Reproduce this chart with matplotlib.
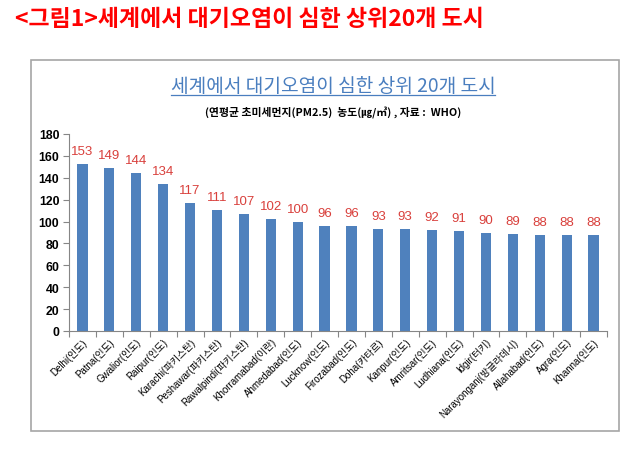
import matplotlib
matplotlib.use("Agg")
import matplotlib.pyplot as plt
from matplotlib.patches import Rectangle
from matplotlib.lines import Line2D

plt.rcParams['font.family'] = ['Liberation Sans', 'Noto Sans CJK KR', 'DejaVu Sans']

# data
cities = ['Delhi(인도)', 'Patna(인도)', 'Gwalior(인도)', 'Raipur(인도)', 'Karachi(파키스탄)',
          'Peshawar(파키스탄)', 'Rawalpindi(파키스탄)', 'Khorramabad(이란)', 'Ahmedabad(인도)',
          'Lucknow(인도)', 'Firozabad(인도)', 'Doha(카타르)', 'Kanpur(인도)', 'Amritsar(인도)',
          'Ludhiana(인도)', 'Idgir(터키)', 'Narayonganj(방글라데시)', 'Allahabad(인도)',
          'Agra(인도)', 'Khanna(인도)']
pm25 = [153, 149, 144, 134, 117, 111, 107, 102, 100, 96, 96, 93, 93, 92, 91, 90, 89, 88, 88, 88]
yticks = list(range(0, 181, 20))

fig = plt.figure(figsize=(6.4, 4.52), dpi=100)

# outer frame of the chart
fig.patches.append(Rectangle((31 / 640, 1 - 432 / 452), 588 / 640, 371 / 452,
                             transform=fig.transFigure, fill=False,
                             edgecolor='#a6a6a6', linewidth=1.2))

fig.text(15 / 640, 1 - 20 / 452, '<그림1>세계에서 대기오염이 심한 상위20개 도시',
         color='#ff0000', fontsize=16.5, fontweight='bold', ha='left', va='center',
         family=['Noto Sans CJK KR'])

title = fig.text(333 / 640, 1 - 87 / 452, '세계에서 대기오염이 심한 상위 20개 도시',
                 color='#4a7ebf', fontsize=13.8, ha='center', va='center',
                 family=['Noto Sans CJK KR'])
fig.text(333 / 640, 1 - 113 / 452, '(연평균 초미세먼지(PM2.5)  농도(㎍/㎥) , 자료 :  WHO)',
         color='black', fontsize=7.8, fontweight='bold', ha='center', va='center',
         family=['Noto Sans CJK KR', 'DejaVu Sans'])

ax = fig.add_axes([69 / 640, 1 - 332 / 452, 538 / 640, 197 / 452])
x = list(range(len(cities)))
ax.bar(x, pm25, width=0.38, color='#4f81bd')
for xi, v in zip(x, pm25):
    ax.annotate(str(v), (xi, v), xytext=(0, 5), textcoords='offset points',
                ha='center', va='bottom', color='#d9403c', fontsize=9.5)

ax.set_xlim(-0.5, len(cities) - 0.5)
ax.set_ylim(0, 180)
ax.set_yticks(yticks)
ax.set_yticklabels([str(t) for t in yticks], fontsize=8.8, fontweight='bold')
ax.set_xticks([i + 0.5 for i in range(-1, len(cities))], minor=False)
ax.set_xticklabels([])
ax.set_xticks(x, minor=True)
ax.set_xticklabels(cities, minor=True, rotation=45, ha='right', va='top',
                   fontsize=7, rotation_mode='anchor')
ax.tick_params(axis='x', which='major', length=4, color='#868686', direction='out')
ax.tick_params(axis='x', which='minor', length=0, pad=4)
ax.tick_params(axis='y', length=4, color='#868686', pad=3)
for s in ['top', 'right']:
    ax.spines[s].set_visible(False)
for s in ['left', 'bottom']:
    ax.spines[s].set_color('#868686')
    ax.spines[s].set_linewidth(0.8)

# underline the inner title
fig.canvas.draw()
bb = title.get_window_extent().transformed(fig.transFigure.inverted())
fig.lines.append(Line2D([bb.x0, bb.x1], [1 - 96 / 452] * 2, transform=fig.transFigure,
                        color='#4a7ebf', linewidth=0.9))

fig.savefig('out.png', dpi=100)
